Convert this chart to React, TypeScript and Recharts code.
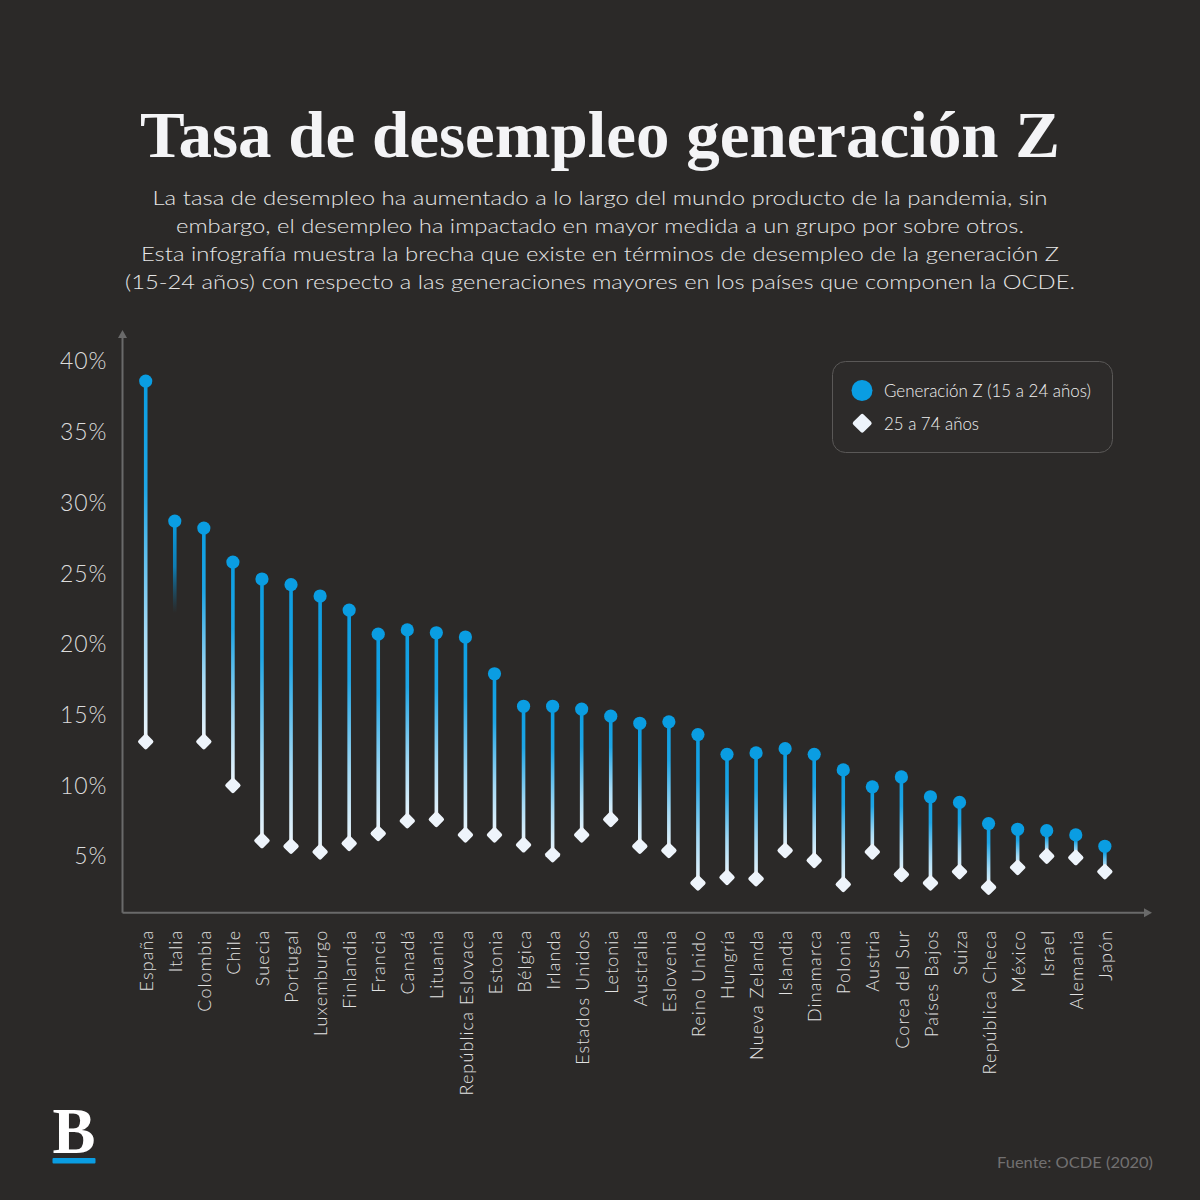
import React from 'react';
import { ComposedChart, Bar, XAxis, YAxis } from 'recharts';

const countries = [
  'España', 'Italia', 'Colombia', 'Chile', 'Suecia', 'Portugal', 'Luxemburgo', 'Finlandia',
  'Francia', 'Canadá', 'Lituania', 'República Eslovaca', 'Estonia', 'Bélgica', 'Irlanda',
  'Estados Unidos', 'Letonia', 'Australia', 'Eslovenia', 'Reino Unido', 'Hungría',
  'Nueva Zelanda', 'Islandia', 'Dinamarca', 'Polonia', 'Austria', 'Corea del Sur',
  'Países Bajos', 'Suiza', 'República Checa', 'México', 'Israel', 'Alemania', 'Japón',
];

const genZ = [
  38.6, 28.7, 28.2, 25.8, 24.6, 24.2, 23.4, 22.4, 20.7, 21.0, 20.8, 20.5, 17.9, 15.6, 15.6,
  15.4, 14.9, 14.4, 14.5, 13.6, 12.2, 12.3, 12.6, 12.2, 11.1, 9.9, 10.6, 9.2, 8.8, 7.3, 6.9,
  6.8, 6.5, 5.7,
];

const adults: (number | null)[] = [
  13.1, null, 13.1, 10.0, 6.1, 5.7, 5.3, 5.9, 6.6, 7.5, 7.6, 6.5, 6.5, 5.8, 5.1, 6.5, 7.6, 5.7,
  5.4, 3.1, 3.5, 3.4, 5.4, 4.7, 3.0, 5.3, 3.7, 3.1, 3.9, 2.8, 4.2, 5.0, 4.9, 3.9,
];

const yTicks = [5, 10, 15, 20, 25, 30, 35, 40];
const yDomain = [1, 42];
// length (in points) of the fading stub drawn when the 25-74 value is missing
const missingStub = 6.5;

const subtitleLines = [
  'La tasa de desempleo ha aumentado a lo largo del mundo producto de la pandemia, sin',
  'embargo, el desempleo ha impactado en mayor medida a un grupo por sobre otros.',
  'Esta infografía muestra la brecha que existe en términos de desempleo de la generación Z',
  '(15-24 años) con respecto a las generaciones mayores en los países que componen la OCDE.',
];
const subtitleWidths = [895, 848, 918, 950];

const BG = '#2b2928';
const BLUE = '#0a9de2';
const WHITE = '#eef4fb';
const AXIS = '#6a6a6a';
const FONT = 'Lato, "Open Sans", sans-serif';

const data = countries.map((c, i) => ({
  country: c,
  range: [adults[i] ?? genZ[i] - missingStub, genZ[i]],
  missing: adults[i] == null,
}));

const Dumbbell = (props: any) => {
  const { x, y, width, height, payload } = props;
  const cx = x + width / 2;
  const top = Math.min(y, y + height);
  const bottom = Math.max(y, y + height);
  const lw = 3.6;
  const missing = payload?.missing;
  return (
    <g>
      <rect
        x={cx - lw / 2}
        y={top}
        width={lw}
        height={bottom - top}
        fill={missing ? 'url(#fadeGrad)' : 'url(#lineGrad)'}
      />
      {!missing && (
        <rect
          x={cx - 6}
          y={bottom - 6}
          width={12}
          height={12}
          rx={2}
          ry={2}
          fill={WHITE}
          transform={`rotate(45 ${cx} ${bottom})`}
        />
      )}
      <circle cx={cx} cy={top} r={6.6} fill={BLUE} />
    </g>
  );
};

const XTick = (props: any) => {
  const { x, y, payload } = props;
  return (
    <text
      x={x}
      y={y}
      transform={`rotate(-90 ${x} ${y})`}
      textAnchor="end"
      dominantBaseline="central"
      fill="#e2e2e2"
      fontSize={18}
      fontFamily={FONT}
      fontWeight={300}
      letterSpacing={1.1}
    >
      {payload.value}
    </text>
  );
};

export default function App() {
  return (
    <div style={{ position: 'absolute', left: 0, top: 0, width: 1200, height: 1200, background: BG, overflow: 'hidden' }}>
      <svg width={1200} height={1200} style={{ position: 'absolute', left: 0, top: 0 }}>
        <defs>
          <linearGradient id="lineGrad" x1="0" y1="0" x2="0" y2="1">
            <stop offset="0%" stopColor={BLUE} />
            <stop offset="30%" stopColor="#1fa6e6" />
            <stop offset="70%" stopColor="#a6daf5" />
            <stop offset="100%" stopColor="#eef6fc" />
          </linearGradient>
          <linearGradient id="fadeGrad" x1="0" y1="0" x2="0" y2="1">
            <stop offset="0%" stopColor={BLUE} stopOpacity={1} />
            <stop offset="50%" stopColor="#0b86c2" stopOpacity={0.9} />
            <stop offset="100%" stopColor="#0b6a98" stopOpacity={0} />
          </linearGradient>
        </defs>
        <text
          x={600}
          y={157}
          textAnchor="middle"
          fill="#f4f4f6"
          fontFamily='"Liberation Serif", "DejaVu Serif", serif'
          fontWeight={700}
          fontSize={66}
          textLength={920}
          lengthAdjust="spacingAndGlyphs"
        >
          Tasa de desempleo generación Z
        </text>
        {subtitleLines.map((line, i) => (
          <text
            key={i}
            x={600}
            y={205 + i * 28}
            textAnchor="middle"
            fill="#e6e6e6"
            fontFamily={FONT}
            fontSize={20}
            fontWeight={300}
            textLength={subtitleWidths[i]}
            lengthAdjust="spacingAndGlyphs"
          >
            {line}
          </text>
        ))}
        {/* Legend */}
        <rect x={832.5} y={361.5} width={280} height={91} rx={13} ry={13} fill="#2d2b2a" stroke="#5a5857" strokeWidth={1} />
        <circle cx={862} cy={390.5} r={10.5} fill={BLUE} />
        <text x={884} y={390.5} dominantBaseline="central" fill="#f0f0f0" fontFamily={FONT} fontSize={17} fontWeight={300} textLength={207} lengthAdjust="spacingAndGlyphs">
          Generación Z (15 a 24 años)
        </text>
        <rect x={855} y={416} width={14.5} height={14.5} rx={2} ry={2} fill={WHITE} transform="rotate(45 862.2 423.2)" />
        <text x={884} y={423.5} dominantBaseline="central" fill="#f0f0f0" fontFamily={FONT} fontSize={17} fontWeight={300} textLength={95} lengthAdjust="spacingAndGlyphs">
          25 a 74 años
        </text>
        {/* Axis arrows */}
        <polygon points="122.5,330 118,338 127,338" fill={AXIS} />
        <polygon points="1152,912.7 1144,908.2 1144,917.2" fill={AXIS} />
        {/* Logo */}
        <text x={74} y={1153} textAnchor="middle" fill="#ffffff" fontFamily='"Liberation Serif", "DejaVu Serif", serif' fontWeight={700} fontSize={66} textLength={43} lengthAdjust="spacingAndGlyphs">
          B
        </text>
        <rect x={52.5} y={1158} width={43} height={5.5} rx={1} fill={BLUE} />
        {/* Source */}
        <text x={1153} y={1168} textAnchor="end" fill="#727070" fontFamily={FONT} fontSize={15} textLength={156} lengthAdjust="spacingAndGlyphs">
          Fuente: OCDE (2020)
        </text>
      </svg>
      <div style={{ position: 'absolute', left: 0, top: 0 }}>
        <ComposedChart
          width={1200}
          height={1200}
          data={data}
          margin={{ top: 333, right: 51.4, bottom: 87.3, left: 0 }}
        >
          <XAxis
            dataKey="country"
            type="category"
            interval={0}
            height={200}
            padding={{ left: 8.8, right: 29.1 }}
            axisLine={{ stroke: AXIS, strokeWidth: 2 }}
            tickLine={false}
            tickSize={6}
            tickMargin={11}
            tick={<XTick />}
          />
          <YAxis
            type="number"
            domain={yDomain}
            ticks={yTicks}
            allowDataOverflow
            width={122.5}
            axisLine={{ stroke: AXIS, strokeWidth: 2 }}
            tickLine={false}
            tickSize={6}
            tickMargin={9}
            tickFormatter={(v: number) => `${v}%`}
            tick={{ fill: '#dcdcdc', fontSize: 23, fontFamily: FONT, fontWeight: 300, letterSpacing: 1 }}
          />
          <Bar dataKey="range" isAnimationActive={false} shape={<Dumbbell />} />
        </ComposedChart>
      </div>
    </div>
  );
}
